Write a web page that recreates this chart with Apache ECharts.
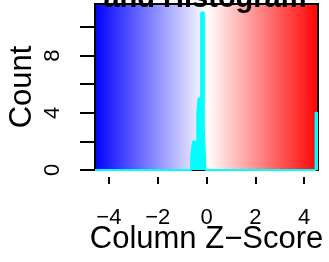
<!DOCTYPE html>
<html>
<head>
<meta charset="UTF-8">
<title>Color Key and Histogram</title>
<script src="https://cdn.jsdelivr.net/npm/echarts@6/dist/echarts.min.js"></script>
<style>
  html, body { margin: 0; padding: 0; background: #fff; }
  #chart { width: 329px; height: 262px; }
</style>
</head>
<body>
<div id="chart"></div>
<script>
// histogram of z-scores
const binBreaks = [-4.57, -0.63, -0.55, -0.38, -0.33, -0.22, -0.11, -0.04, 4.47, 4.57];
const binCounts = [0, 1, 2, 4, 5, 11, 3, 0, 4];
const xTicks = [-4, -2, 0, 2, 4];
const yTicks = [0, 2, 4, 6, 8, 10];
const yLabels = [0, 4, 8];

// step line points: each bin starts at its break, last point closes the final bin
const histPoints = binCounts.map((c, i) => [binBreaks[i], c]);
histPoints.push([binBreaks[binBreaks.length - 1], binCounts[binCounts.length - 1]]);

const font = 'Liberation Sans, Arial, Helvetica, sans-serif';
const minus = v => (v < 0 ? '\u2212' + Math.abs(v) : String(v));

const chart = echarts.init(document.getElementById('chart'));
chart.setOption({
  animation: false,
  grid: {
    left: 95, right: 11, top: 4, bottom: 92,
    outerBoundsMode: 'none',
    show: true,
    borderColor: '#000',
    borderWidth: 2,
    backgroundColor: {
      type: 'linear', x: 0, y: 0, x2: 1, y2: 0,
      colorStops: [
        { offset: 0, color: '#0000ff' },
        { offset: 0.5, color: '#ffffff' },
        { offset: 1, color: '#ff0000' }
      ]
    }
  },
  xAxis: {
    type: 'value',
    min: -4.57, max: 4.57,
    offset: 7,
    axisLine: { show: false, onZero: false },
    splitLine: { show: false },
    axisTick: { show: true, length: 7, lineStyle: { color: '#000', width: 2 }, customValues: xTicks },
    axisLabel: {
      customValues: xTicks, formatter: minus, margin: 30,
      fontSize: 22, color: '#000', fontFamily: font
    },
    name: 'Column Z\u2212Score',
    nameLocation: 'middle',
    nameGap: 47,
    nameMoveOverlap: false,
    nameTextStyle: { fontSize: 31, color: '#000', fontFamily: font }
  },
  yAxis: {
    type: 'value',
    min: 0, max: 11.6,
    axisLine: { show: false, onZero: false },
    splitLine: { show: false },
    axisTick: { show: true, length: 15, lineStyle: { color: '#000', width: 2 }, customValues: yTicks },
    axisLabel: {
      customValues: yLabels, rotate: 90, margin: 31,
      fontSize: 22, color: '#000', fontFamily: font
    },
    name: 'Count',
    nameLocation: 'middle',
    nameGap: 57,
    nameMoveOverlap: false,
    nameTextStyle: { fontSize: 31, color: '#000', fontFamily: font }
  },
  series: [{
    type: 'line',
    step: 'end',
    data: histPoints,
    symbol: 'none',
    lineStyle: { color: '#00ffff', width: 2 },
    areaStyle: { color: '#00ffff', opacity: 1 },
    z: 3
  }],
  graphic: [{
    type: 'text',
    x: 205, y: 13,
    z: 100,
    style: {
      text: 'Color Key\nand Histogram',
      align: 'center', verticalAlign: 'bottom',
      font: 'bold 29px ' + font,
      fill: '#000'
    }
  }]
});
</script>
</body>
</html>
